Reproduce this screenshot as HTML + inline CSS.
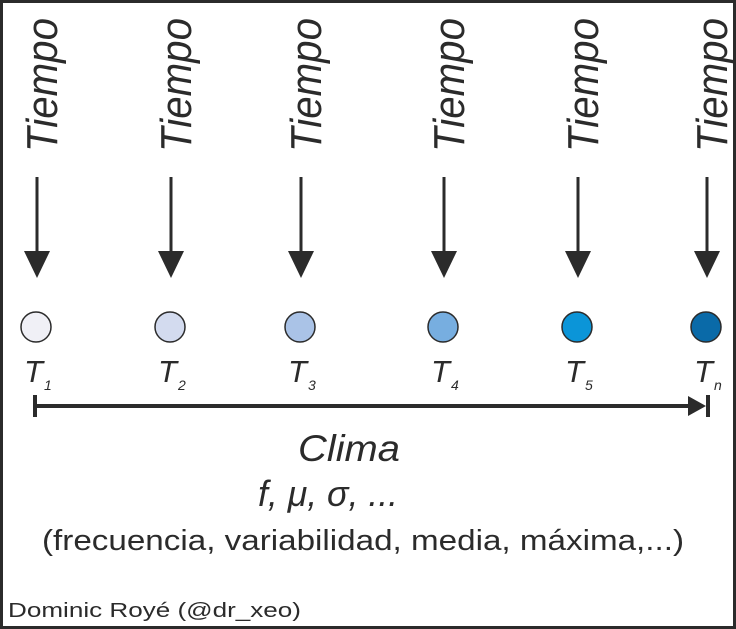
<!DOCTYPE html>
<html><head><meta charset="utf-8"><style>
html,body{margin:0;padding:0;background:#fff;}
svg{display:block;font-family:"Liberation Sans",Arial,sans-serif;}
</style></head><body>
<svg id="chart" width="736" height="629" viewBox="0 0 736 629">
<rect x="1.5" y="1.5" width="733" height="626" fill="#fff" stroke="#2b2b2b" stroke-width="3"/>
<g id="cols"></g>
<g>
<line x1="35" y1="406" x2="700" y2="406" stroke="#2b2b2b" stroke-width="4"/>
<line x1="35" y1="395" x2="35" y2="417" stroke="#2b2b2b" stroke-width="4"/>
<polygon points="688,396 706,406 688,416" fill="#2b2b2b"/>
<line x1="708" y1="395" x2="708" y2="417" stroke="#2b2b2b" stroke-width="4"/>
</g>
<text x="298" y="461" font-size="37" font-style="italic" textLength="102" lengthAdjust="spacingAndGlyphs" fill="#2b2b2b">Clima</text>
<text x="258" y="506" font-size="36" font-style="italic" textLength="140" lengthAdjust="spacingAndGlyphs" fill="#2b2b2b">f, μ, σ, ...</text>
<text x="42" y="550" font-size="29" textLength="642" lengthAdjust="spacingAndGlyphs" fill="#2b2b2b">(frecuencia, variabilidad, media, máxima,...)</text>
<text x="8" y="617" font-size="20" textLength="293" lengthAdjust="spacingAndGlyphs" fill="#2b2b2b">Dominic Royé (@dr_xeo)</text>
</svg>
<script>
const labels = ["1","2","3","4","5","n"];
const colors = ["#f0f0f6","#d3dbef","#aac3e7","#77aee0","#0b95d8","#0a6aa8"];
const centers = [36,170,300,443,577,706];
const ns="http://www.w3.org/2000/svg";
const g=document.getElementById('cols');
function mk(t,a){const e=document.createElementNS(ns,t);for(const k in a)e.setAttribute(k,a[k]);g.appendChild(e);return e;}
labels.forEach((l,i)=>{
  const x=centers[i];
  const tx=mk('text',{x:0,y:0,'font-size':44,'font-style':'italic',fill:'#2b2b2b','text-anchor':'middle',textLength:134,lengthAdjust:'spacingAndGlyphs',transform:`translate(${x+21},85) rotate(-90)`});
  tx.textContent='Tiempo';
  
  
  const ln=mk('line',{x1:x+1,y1:177,x2:x+1,y2:255,stroke:'#2b2b2b','stroke-width':3});
  
  
  const hd=mk('polygon',{points:`${x-12},251 ${x+14},251 ${x+1},278`,fill:'#2b2b2b'});
  
  
  const c=mk('circle',{cx:x,cy:327,r:15,fill:colors[i],stroke:'#2b2b2b','stroke-width':1.5});
  
  
  const t=mk('text',{x:x-12,y:382,'font-size':31,'font-style':'italic',fill:'#2b2b2b'});
  t.textContent='T';
  
  
  const s=mk('text',{x:x+8,y:390,'font-size':14,'font-style':'italic',fill:'#2b2b2b'});
  s.textContent=l;
  
  
});
</script>
</body></html>
